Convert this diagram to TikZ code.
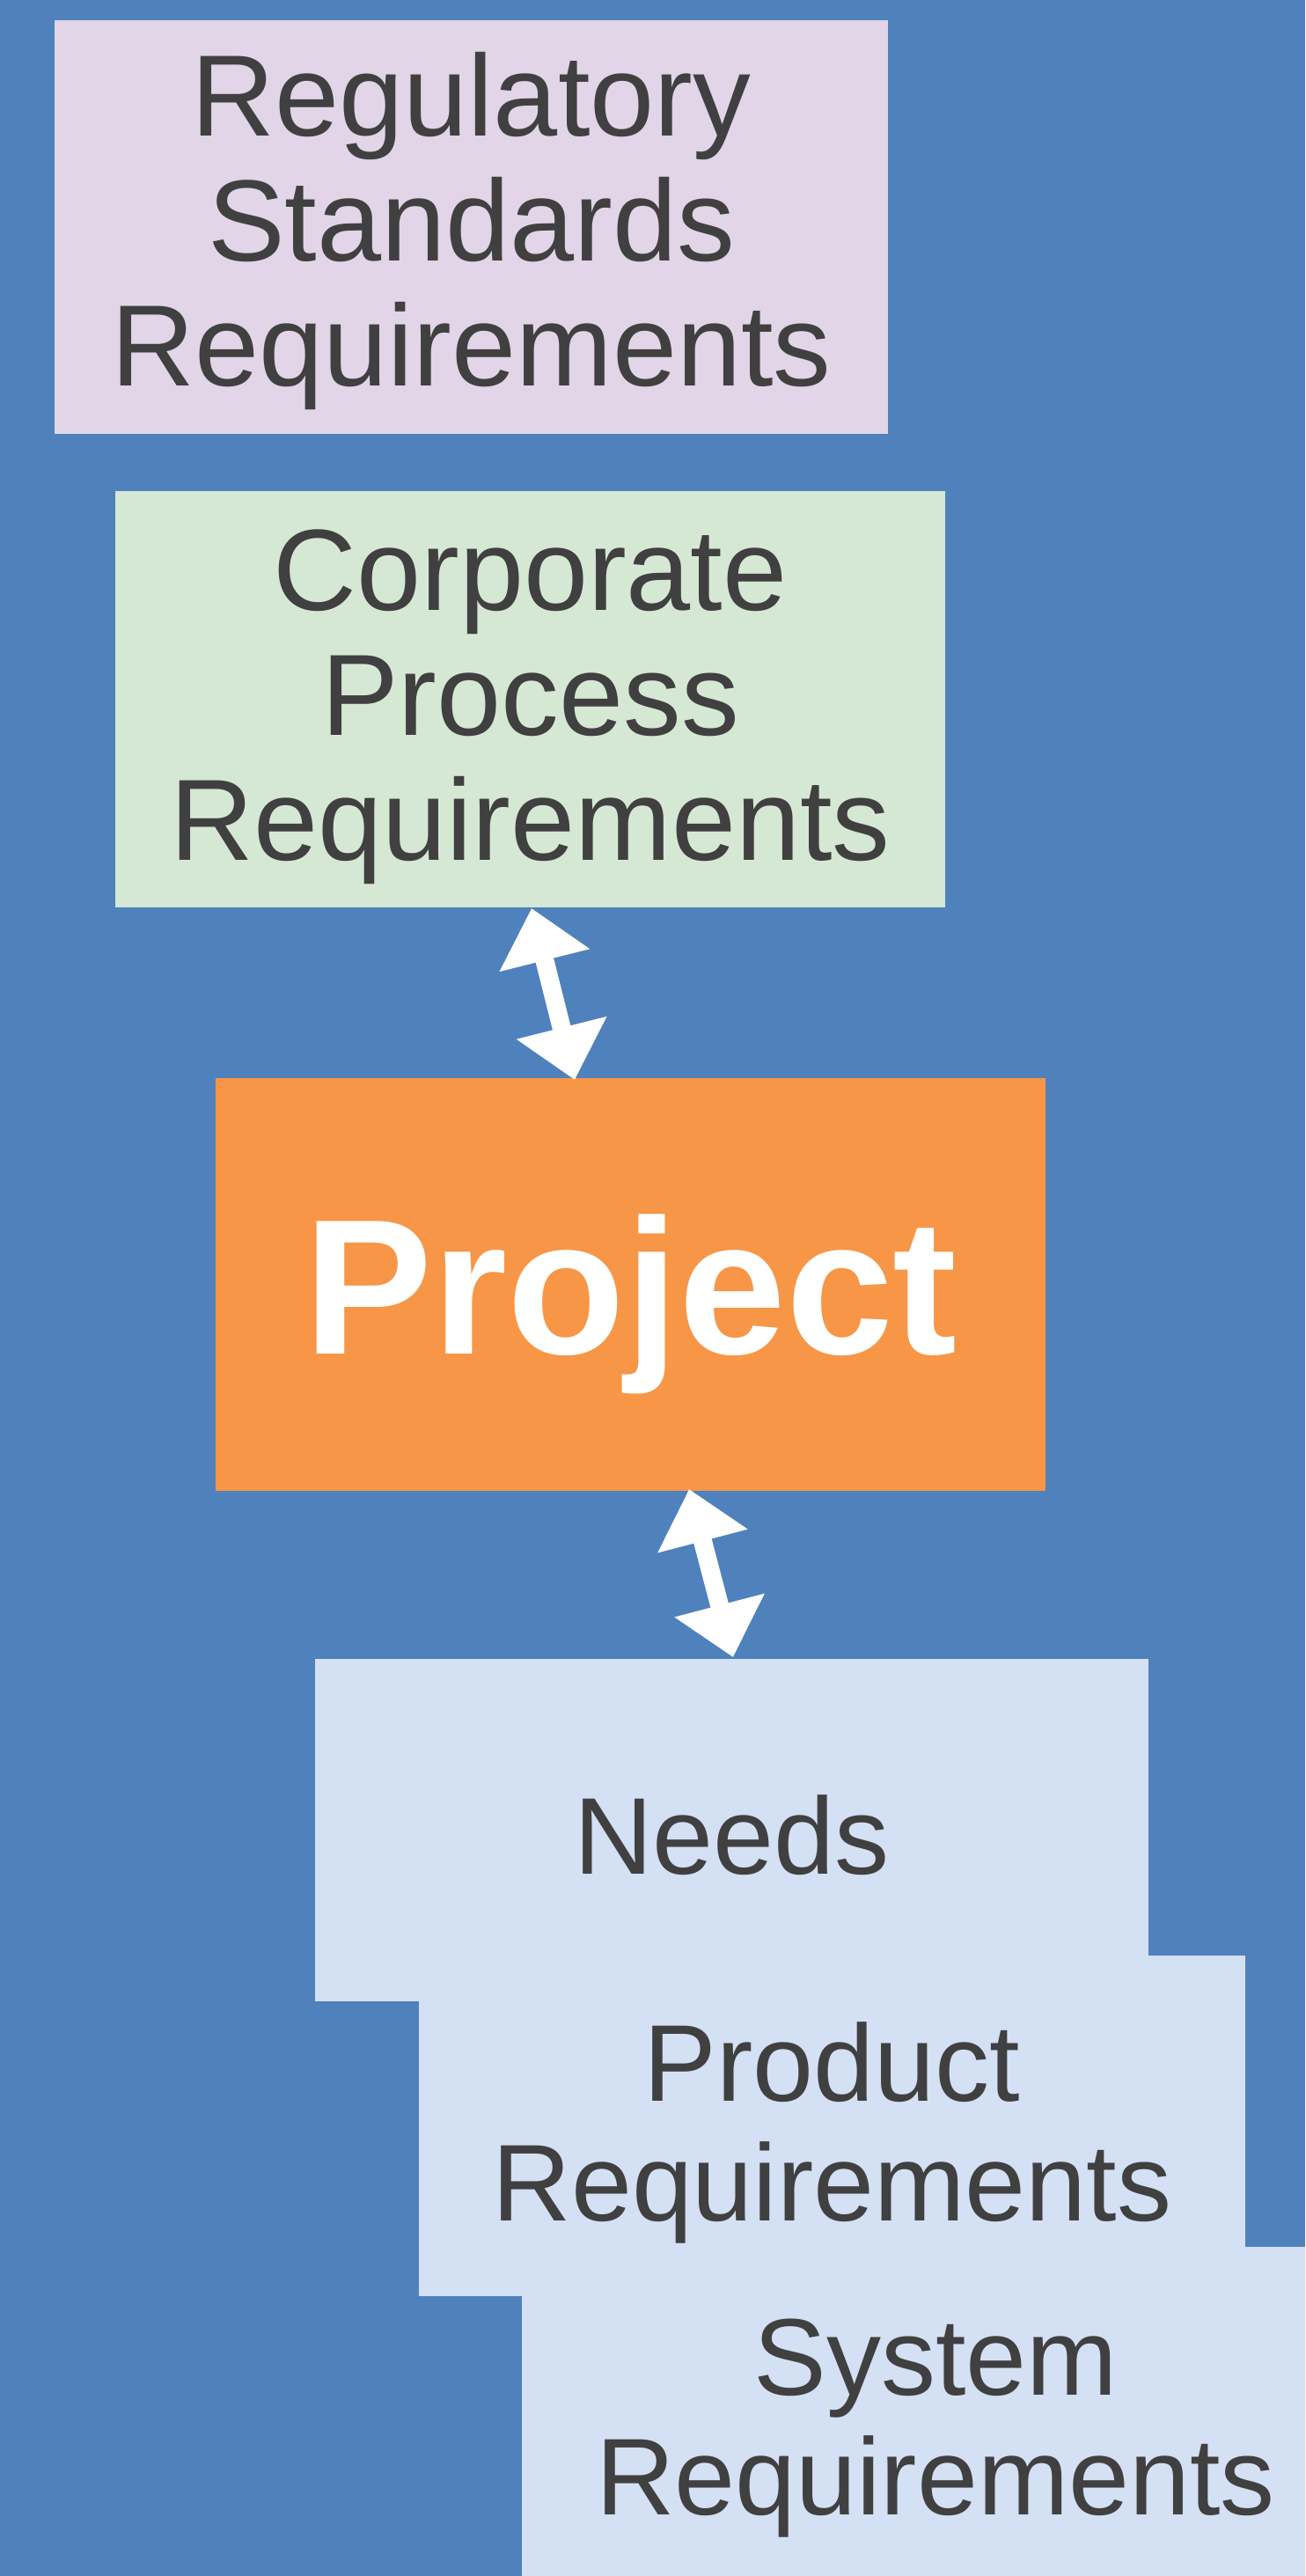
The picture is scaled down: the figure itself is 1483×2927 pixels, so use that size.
\documentclass[tikz,border=0pt]{standalone}
\usepackage{fontspec}
\setmainfont{Liberation Sans}
\usetikzlibrary{arrows.meta,calc}
\definecolor{bg}{HTML}{4F81BD}
\definecolor{regfill}{HTML}{E1D5E7}
\definecolor{corpfill}{HTML}{D5E8D4}
\definecolor{projfill}{HTML}{F79646}
\definecolor{reqfill}{HTML}{D4E0F3}
\definecolor{txt}{HTML}{404040}
\begin{document}
\begin{tikzpicture}[x=0.5pt,y=-0.5pt,
  box/.style={rectangle, anchor=north west, inner sep=0pt, outer sep=0pt, draw=none},
  bigtext/.style={font=\fontsize{65.7}{71}\selectfont, text=txt, align=center, anchor=base, inner sep=0pt},
  smalltext/.style={font=\fontsize{62}{68}\selectfont, text=txt, align=center, anchor=base, inner sep=0pt},
  projtext/.style={font=\fontsize{109.5}{120}\selectfont\bfseries, text=white, anchor=base, inner sep=0pt},
  twoway/.style={draw=white, line width=10.5pt,
    {Triangle[length=30.5pt,width=51pt]}-{Triangle[length=30.5pt,width=51pt]}}
]
\useasboundingbox (0,0) rectangle (1483,2927);
\clip (0,0) rectangle (1483,2927);
\fill[bg] (0,0) rectangle (1483,2927);

% boxes
\node[box, fill=regfill, minimum width=473.5pt, minimum height=235pt] (reg) at (62,23) {};
\node[box, fill=corpfill, minimum width=471.5pt, minimum height=236.5pt] (corp) at (131,558) {};
\node[box, fill=projfill, minimum width=471.5pt, minimum height=234.5pt] (proj) at (245,1225) {};
\node[box, fill=reqfill, minimum width=473.5pt, minimum height=194.5pt] (needs) at (358,1885) {};
\node[box, fill=reqfill, minimum width=469.5pt, minimum height=193.5pt] (prod) at (476,2222) {};
\node[box, fill=reqfill, minimum width=470pt, minimum height=193.5pt] (sys) at (593,2553) {};

% texts (anchor base = baseline of the last line)
\node[bigtext] (regtext) at (535.5,438) {Regulatory\\Standards\\Requirements};
\node[bigtext] (corptext) at (602.5,977) {Corporate\\Process\\Requirements};
\node[projtext] (projtxt) at (716.5,1538) {Project};
\node[smalltext] (needstext) at (831.5,2129) {Needs};
\node[smalltext] (prodtext) at (945.5,2523) {Product\\Requirements};
\node[smalltext] (systext) at (1063,2857) {System\\Requirements};

% connectors
\draw[twoway] ($(corp.south west)+(473,1)$) -- ($(proj.north west)+(408,2)$);
\draw[twoway] ($(proj.south west)+(538,-2)$) -- ($(needs.north west)+(475,-2)$);
\end{tikzpicture}
\end{document}
